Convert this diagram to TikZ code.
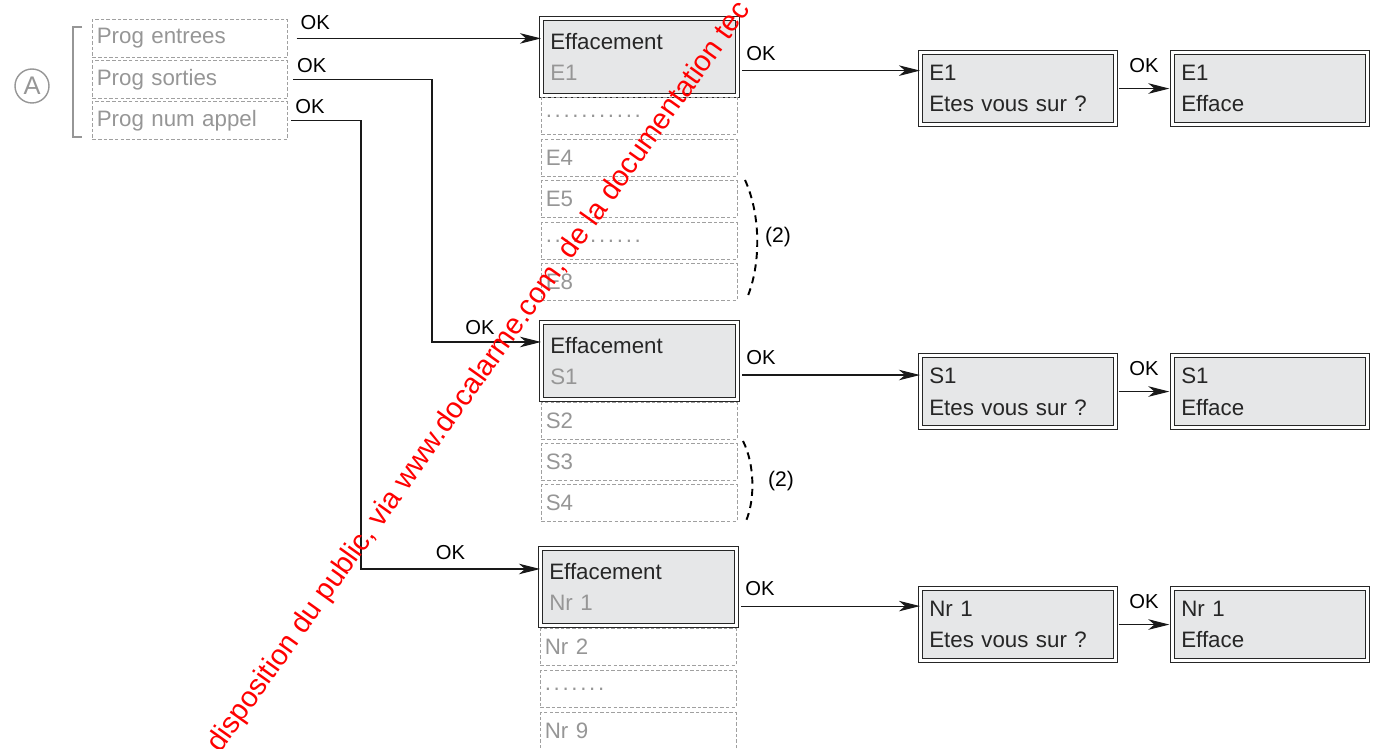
\documentclass[tikz,border=0pt]{standalone}
\usepackage{fontspec}
\setmainfont{Liberation Sans}
\usetikzlibrary{arrows.meta,positioning}
\definecolor{gristexte}{RGB}{150,150,150}
\definecolor{grisfond}{RGB}{230,231,232}
\definecolor{grisbord}{RGB}{160,160,160}
\definecolor{rougefil}{RGB}{255,0,0}
\newcommand{\pointilles}[1]{{\addfontfeature{LetterSpace=12}#1}}
\tikzset{
  ecran/.style={draw=black!85, line width=0.6pt, double=white, double distance=1.4pt, fill=grisfond,
    anchor=north west, align=left, inner xsep=5pt, text=black!85, font=\fontsize{12.7}{18}\selectfont},
  liste/.style={draw=grisbord, line width=0.5pt, dash pattern=on 2pt off 1.2pt, text=gristexte,
    anchor=north west, align=left, inner xsep=2.5pt, text width=106.5pt, minimum height=21pt,
    font=\fontsize{12.7}{15}\selectfont},
  fleche/.style={draw=black!90, line width=0.6pt, -{Stealth[length=12pt,width=6pt,inset=3.5pt]}},
  ok/.style={font=\fontsize{11.5}{12}\selectfont, text=black, inner sep=2pt}
}

\begin{document}
\begin{tikzpicture}[x=0.02cm, y=-0.02cm]
  \useasboundingbox (0,0) rectangle (1377,749);

  % repere A et crochet
  \node[circle, draw=gristexte, line width=0.8pt, minimum size=0.68cm, inner sep=0pt, text=gristexte,
    font=\fontsize{14.5}{14.5}\selectfont] (repA) at (32,86) {A};
  \draw[gristexte, line width=1.1pt] (82,27) -- (73,27) -- (73,137) -- (82,137);

  % menu programmation
  \node[liste, text width=106pt, minimum height=21.6pt] (pe) at (92,19) {Prog entrees};
  \node[liste, text width=106pt, minimum height=21.6pt] (ps) at (92,60) {Prog sorties};
  \node[liste, text width=106pt, minimum height=21.6pt] (pa) at (92,101) {Prog num appel};

  % effacement entrees
  \node[ecran, text width=101.5pt, minimum height=43.8pt] (eff1) at (541,18) {Effacement\\\textcolor{gristexte}{E1}};
  \node[liste] (e2) at (541,97) {\pointilles{...........}};
  \node[liste] (e4) at (541,139) {E4};
  \node[liste] (e5) at (541,180) {E5};
  \node[liste] (e6) at (541,222) {\pointilles{...........}};
  \node[liste] (e8) at (541,263) {E8};
  \draw[black, line width=1.1pt, dash pattern=on 4pt off 3pt] (745,180) .. controls (761,215) and (761,265) .. (747,298);
  \node[font=\fontsize{12}{12}\selectfont] (n2e) at (778,237) {(2)};

  % effacement sorties
  \node[ecran, text width=101.5pt, minimum height=43.8pt] (eff2) at (541,322) {Effacement\\\textcolor{gristexte}{S1}};
  \node[liste] (s2) at (541,402) {S2};
  \node[liste] (s3) at (541,443) {S3};
  \node[liste] (s4) at (541,484) {S4};
  \draw[black, line width=1.1pt, dash pattern=on 4pt off 3pt] (743,441) .. controls (755,465) and (755,500) .. (746,521);
  \node[font=\fontsize{12}{12}\selectfont] (n2s) at (781,481) {(2)};

  % effacement numeros
  \node[ecran, text width=101.5pt, minimum height=43.8pt] (eff3) at (540,548) {Effacement\\\textcolor{gristexte}{Nr 1}};
  \node[liste] (n2) at (540,628) {Nr 2};
  \node[liste] (n5) at (540,670) {\pointilles{.......}};
  \node[liste] (n9) at (540,712) {Nr 9};

  % confirmation
  \node[ecran, text width=101pt, minimum height=41pt] (q1) at (920,52) {E1\\Etes vous sur ?};
  \node[ecran, text width=101pt, minimum height=41pt] (f1) at (1172,52) {E1\\Efface};
  \node[ecran, text width=101pt, minimum height=41pt] (q2) at (920,355) {S1\\Etes vous sur ?};
  \node[ecran, text width=101pt, minimum height=41pt] (f2) at (1172,355) {S1\\Efface};
  \node[ecran, text width=101pt, minimum height=41pt] (q3) at (920,588) {Nr 1\\Etes vous sur ?};
  \node[ecran, text width=101pt, minimum height=41pt] (f3) at (1172,588) {Nr 1\\Efface};

  % liaisons
  \coordinate (coude2) at (432,342);
  \coordinate (coude3) at (361,569);
  \draw[fleche] ([xshift=5pt]pe.east) node[ok, above right, yshift=2.5pt]{OK} -- (pe.east -| eff1.west);
  \draw[fleche] ([xshift=3pt]ps.east) node[ok, above right, yshift=1.5pt]{OK} -| (coude2)
    -- node[ok, pos=0.44, above, yshift=2pt]{OK} (coude2 -| eff2.west);
  \draw[fleche] ([xshift=2pt]pa.east) node[ok, above right, yshift=1.5pt]{OK} -| (coude3)
    -- node[ok, pos=0.5, above, yshift=3pt]{OK} (coude3 -| eff3.west);

  \coordinate (r1) at ([yshift=10.2pt]q1.west);
  \coordinate (r2) at ([yshift=9.4pt]q2.west);
  \coordinate (r3) at ([yshift=10.5pt]q3.west);
  \draw[fleche] ([xshift=2.5pt]r1 -| eff1.east) node[ok, above right, yshift=3.5pt]{OK} -- (r1);
  \draw[fleche] ([xshift=2.5pt]r2 -| eff2.east) node[ok, above right, yshift=3.5pt]{OK} -- (r2);
  \draw[fleche] ([xshift=2.5pt]r3 -| eff3.east) node[ok, above right, yshift=3.5pt]{OK} -- (r3);
  \draw[fleche, shorten <=1.5pt, shorten >=1.5pt] (q1) -- node[ok, above=7pt]{OK} (f1);
  \draw[fleche, shorten <=1.5pt, shorten >=1.5pt] (q2) -- node[ok, above=7pt]{OK} (f2);
  \draw[fleche, shorten <=1.5pt, shorten >=1.5pt] (q3) -- node[ok, above=7pt]{OK} (f3);

  % filigrane
  \node[rotate=54.5, anchor=base west, inner sep=0pt, text=rougefil, font=\fontsize{16.5}{16.5}\selectfont] (filig)
    at (220,754) {disposition du public, via www.docalarme.com, de la documentation tec};
\end{tikzpicture}
\end{document}
